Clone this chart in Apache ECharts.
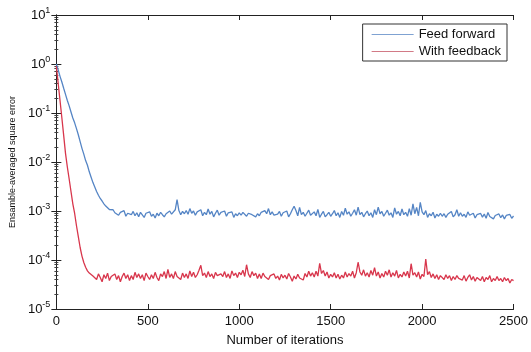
<!DOCTYPE html>
<html>
<head>
<meta charset="utf-8">
<script src="https://cdn.jsdelivr.net/npm/echarts@6/dist/echarts.min.js"></script>
<style>
  html, body { margin: 0; padding: 0; background: #fff; }
  #container { width: 531px; height: 352px; }
</style>
</head>
<body>
<div id="container"></div>
<script>
// one sample every 10 iterations, 0..2500
var iterStep = 10;
var seriesNames = ['Feed forward', 'With feedback'];

var feedForward = [
  1.0, 0.76, 0.56, 0.43, 0.32, 0.24, 0.18, 0.14, 0.105, 0.079,
  0.063, 0.048, 0.036, 0.026, 0.019, 0.0145, 0.0107, 0.0086, 0.0063, 0.0049,
  0.0038, 0.0031, 0.0025, 0.0021, 0.0018, 0.0016, 0.0014, 0.00126, 0.00118, 0.00107,
  0.00100,
  10.6e-4, 9.2e-4, 10.0e-4, 8.2e-4, 9.4e-4, 8.6e-4, 10.2e-4, 7.8e-4, 9.0e-4, 9.6e-4,
  8.4e-4, 9.8e-4, 8.0e-4, 9.2e-4, 7.6e-4, 9.4e-4, 8.8e-4, 7.4e-4, 9.0e-4, 8.2e-4,
  9.6e-4, 7.8e-4, 8.6e-4, 7.2e-4, 9.0e-4, 8.0e-4, 9.4e-4, 8.4e-4, 7.6e-4, 8.8e-4,
  8.2e-4, 10.0e-4, 8.6e-4, 9.4e-4, 10.6e-4, 17.0e-4, 10.2e-4, 8.4e-4, 9.8e-4, 8.8e-4,
  10.2e-4, 8.6e-4, 11.2e-4, 9.0e-4, 10.0e-4, 8.2e-4, 9.6e-4, 8.8e-4, 10.6e-4, 8.0e-4,
  9.4e-4, 8.4e-4, 11.0e-4, 8.6e-4, 9.8e-4, 7.6e-4, 9.0e-4, 10.4e-4, 8.2e-4, 9.4e-4,
  8.6e-4, 10.0e-4, 7.8e-4, 9.2e-4, 8.4e-4, 9.6e-4, 7.4e-4, 8.8e-4, 8.0e-4, 9.2e-4,
  8.2e-4, 9.4e-4, 8.6e-4, 7.8e-4, 9.0e-4, 9.8e-4, 8.4e-4, 9.2e-4, 7.6e-4, 8.8e-4,
  8.0e-4, 9.4e-4, 8.6e-4, 10.2e-4, 8.8e-4, 11.2e-4, 8.4e-4, 9.6e-4, 8.2e-4, 9.0e-4,
  8.6e-4, 9.8e-4, 7.8e-4, 9.2e-4, 8.4e-4, 10.0e-4, 7.6e-4, 8.8e-4, 10.6e-4, 12.5e-4,
  10.2e-4, 8.0e-4, 11.8e-4, 8.4e-4, 9.4e-4, 7.8e-4, 9.0e-4, 10.4e-4, 8.2e-4, 8.8e-4,
  9.6e-4, 8.0e-4, 10.8e-4, 7.4e-4, 8.6e-4, 9.8e-4, 7.6e-4, 8.4e-4, 9.4e-4, 7.8e-4,
  8.8e-4, 10.2e-4, 8.0e-4, 9.2e-4, 7.4e-4, 9.8e-4, 8.2e-4, 11.4e-4, 8.6e-4, 9.6e-4,
  7.8e-4, 9.0e-4, 10.6e-4, 8.2e-4, 12.0e-4, 8.4e-4, 9.4e-4, 7.6e-4, 8.8e-4, 10.0e-4,
  8.0e-4, 9.2e-4, 7.4e-4, 10.6e-4, 8.4e-4, 12.0e-4, 8.8e-4, 9.8e-4, 7.8e-4, 9.0e-4,
  10.4e-4, 8.2e-4, 9.2e-4, 7.4e-4, 11.6e-4, 8.6e-4, 9.8e-4, 8.0e-4, 11.0e-4, 8.4e-4,
  9.4e-4, 7.8e-4, 11.2e-4, 8.2e-4, 14.0e-4, 8.8e-4, 11.8e-4, 8.0e-4, 15.0e-4, 9.6e-4,
  8.4e-4, 10.2e-4, 7.4e-4, 8.8e-4, 8.0e-4, 9.4e-4, 7.2e-4, 8.6e-4, 7.8e-4, 9.0e-4,
  7.8e-4, 8.8e-4, 7.4e-4, 8.6e-4, 8.0e-4, 9.8e-4, 7.6e-4, 8.4e-4, 10.6e-4, 7.8e-4,
  9.2e-4, 7.8e-4, 8.6e-4, 7.4e-4, 9.6e-4, 8.2e-4, 7.6e-4, 9.0e-4, 7.2e-4, 8.4e-4,
  7.9e-4, 8.9e-4, 7.5e-4, 8.7e-4, 7.1e-4, 9.3e-4, 7.7e-4, 8.3e-4, 6.9e-4, 8.1e-4,
  7.7e-4, 8.7e-4, 7.3e-4, 8.3e-4, 6.9e-4, 8.1e-4, 7.5e-4, 8.5e-4, 7.1e-4, 7.9e-4
];

var withFeedback = [
  0.9, 0.4, 0.18, 0.08, 0.035, 0.015, 0.0079, 0.0045, 0.0025, 0.0014,
  8.9e-4, 5.0e-4, 3.0e-4, 1.8e-4, 1.2e-4, 8.9e-5, 7.1e-5, 6.0e-5, 5.4e-5, 5.0e-5,
  4.7e-5,
  4.8e-5, 4.0e-5, 5.2e-5, 4.4e-5, 3.6e-5, 5.0e-5, 4.2e-5, 5.4e-5, 3.8e-5, 4.6e-5,
  4.4e-5, 5.2e-5, 4.0e-5, 4.8e-5, 3.6e-5, 4.6e-5, 5.4e-5, 4.2e-5, 5.0e-5, 3.8e-5,
  4.8e-5, 4.0e-5, 5.6e-5, 4.4e-5, 5.2e-5, 4.2e-5, 5.0e-5, 3.8e-5, 5.4e-5, 4.6e-5,
  4.0e-5, 5.0e-5, 4.2e-5, 5.6e-5, 4.4e-5, 3.8e-5, 5.2e-5, 4.6e-5, 5.8e-5, 4.2e-5,
  6.4e-5, 4.4e-5, 5.2e-5, 4.2e-5, 5.8e-5, 4.6e-5, 5.0e-5, 4.0e-5, 5.4e-5, 4.4e-5,
  5.2e-5, 4.2e-5, 6.0e-5, 4.6e-5, 5.6e-5, 4.4e-5, 5.0e-5, 6.2e-5, 7.8e-5, 4.8e-5,
  5.4e-5, 4.4e-5, 5.8e-5, 4.6e-5, 5.2e-5, 4.2e-5, 5.6e-5, 4.8e-5, 4.4e-5, 5.2e-5,
  4.6e-5, 5.8e-5, 4.4e-5, 5.2e-5, 4.2e-5, 6.0e-5, 4.8e-5, 5.4e-5, 4.4e-5, 5.6e-5,
  5.0e-5, 6.2e-5, 4.6e-5, 8.0e-5, 5.2e-5, 4.4e-5, 5.8e-5, 4.8e-5, 5.4e-5, 4.2e-5,
  5.2e-5, 4.2e-5, 5.4e-5, 4.6e-5, 5.0e-5, 4.0e-5, 4.8e-5, 4.4e-5, 5.2e-5, 4.2e-5,
  4.7e-5, 3.9e-5, 5.1e-5, 4.3e-5, 4.9e-5, 4.1e-5, 5.3e-5, 4.5e-5, 3.7e-5, 4.7e-5,
  4.1e-5, 5.1e-5, 4.3e-5, 4.7e-5, 3.9e-5, 5.3e-5, 4.5e-5, 5.9e-5, 4.7e-5, 5.5e-5,
  4.5e-5, 5.9e-5, 4.7e-5, 8.5e-5, 5.3e-5, 6.1e-5, 4.7e-5, 5.7e-5, 4.3e-5, 5.1e-5,
  4.5e-5, 5.5e-5, 4.3e-5, 5.1e-5, 4.1e-5, 4.9e-5, 4.3e-5, 5.7e-5, 4.5e-5, 5.3e-5,
  4.7e-5, 5.9e-5, 4.3e-5, 5.5e-5, 9.0e-5, 5.7e-5, 4.9e-5, 6.3e-5, 4.7e-5, 5.5e-5,
  4.5e-5, 6.1e-5, 4.9e-5, 7.0e-5, 4.7e-5, 5.7e-5, 4.3e-5, 5.3e-5, 4.5e-5, 5.9e-5,
  4.9e-5, 6.3e-5, 4.5e-5, 5.5e-5, 4.7e-5, 6.1e-5, 4.3e-5, 5.1e-5, 4.5e-5, 5.7e-5,
  4.7e-5, 5.9e-5, 4.3e-5, 8.4e-5, 4.9e-5, 5.5e-5, 4.5e-5, 5.7e-5, 4.1e-5, 5.1e-5,
  4.6e-5, 10.5e-5, 5.0e-5, 5.8e-5, 4.4e-5, 5.2e-5, 4.2e-5, 5.0e-5, 4.0e-5, 4.8e-5,
  4.6e-5, 4.0e-5, 5.0e-5, 4.2e-5, 4.8e-5, 3.8e-5, 4.6e-5, 4.0e-5, 4.8e-5, 4.2e-5,
  4.6e-5, 3.9e-5, 4.8e-5, 3.7e-5, 4.4e-5, 5.0e-5, 3.9e-5, 4.6e-5, 3.7e-5, 4.4e-5,
  4.3e-5, 3.8e-5, 4.6e-5, 3.6e-5, 4.4e-5, 4.0e-5, 4.8e-5, 3.6e-5, 4.2e-5, 3.8e-5,
  4.6e-5, 3.8e-5, 4.2e-5, 3.6e-5, 4.4e-5, 3.8e-5, 4.2e-5, 3.4e-5, 4.0e-5, 3.8e-5
];

var xTicks = [0, 500, 1000, 1500, 2000, 2500];

window.onload = function () {
  drawChart();
};

// pair each sample with its iteration number
function toPairs(vals) {
  var out = [];
  for (var i = 0; i < vals.length; i++) {
    out.push([i * iterStep, vals[i]]);
  }
  return out;
}

function drawChart() {
  var myChart = echarts.init(document.getElementById('container'));
  var font = 'Liberation Sans, Arial, Helvetica, sans-serif';
  var tickStyle = { show: true, inside: true, length: 5, lineStyle: { color: '#222' } };
  var lineStyle = { show: true, lineStyle: { color: '#222', width: 1 } };

  myChart.setOption({
    animation: false,
    grid: { left: 53, right: 17, top: 15, bottom: 38, containLabel: false },
    legend: {
      data: seriesNames,
      orient: 'vertical',
      right: 24,
      top: 24,
      icon: 'rect',
      itemWidth: 42,
      itemHeight: 1,
      itemGap: 4,
      padding: [4, 6, 3, 9],
      borderColor: '#333',
      borderWidth: 1,
      backgroundColor: '#fff',
      textStyle: { fontFamily: font, fontSize: 13, color: '#111' }
    },
    xAxis: [{
      type: 'value',
      min: xTicks[0],
      max: xTicks[xTicks.length - 1],
      interval: 500,
      name: 'Number of iterations',
      nameLocation: 'middle',
      nameGap: 25,
      nameTextStyle: { fontFamily: font, fontSize: 13, color: '#111' },
      axisLine: lineStyle,
      axisTick: tickStyle,
      splitLine: { show: false },
      axisLabel: {
        fontFamily: font, fontSize: 13, color: '#111', margin: 6,
        formatter: function (v) { return String(v); }
      }
    }, {
      type: 'value',
      position: 'top',
      min: xTicks[0],
      max: xTicks[xTicks.length - 1],
      interval: 500,
      axisLine: lineStyle,
      axisTick: tickStyle,
      axisLabel: { show: false },
      splitLine: { show: false }
    }],
    yAxis: [{
      type: 'log',
      logBase: 10,
      min: 1e-5,
      max: 10,
      name: 'Ensamble-averaged square error',
      nameLocation: 'middle',
      nameGap: 39,
      nameTextStyle: { fontFamily: font, fontSize: 9, color: '#111' },
      axisLine: lineStyle,
      axisTick: tickStyle,
      minorTick: { show: true, splitNumber: 9, length: 2, lineStyle: { color: '#444' } },
      splitLine: { show: false },
      axisLabel: {
        margin: 6,
        formatter: function (v) {
          var e = Math.round(Math.log(v) / Math.LN10);
          return '{b|10}{s|' + e + '}';
        },
        rich: {
          b: { fontFamily: font, fontSize: 13, color: '#111' },
          s: { fontFamily: font, fontSize: 9, color: '#111', padding: [0, 0, 9, 0] }
        }
      }
    }, {
      type: 'log',
      logBase: 10,
      min: 1e-5,
      max: 10,
      position: 'right',
      axisLine: lineStyle,
      axisTick: tickStyle,
      minorTick: { show: true, splitNumber: 9, length: 2, lineStyle: { color: '#444' } },
      axisLabel: { show: false },
      splitLine: { show: false }
    }],
    series: [{
      name: seriesNames[0],
      type: 'line',
      data: toPairs(feedForward),
      symbol: 'none',
      lineStyle: { color: '#5585c5', width: 1.3 },
      itemStyle: { color: '#7fa2d2' }
    }, {
      name: seriesNames[1],
      type: 'line',
      data: toPairs(withFeedback),
      symbol: 'none',
      lineStyle: { color: '#d8364c', width: 1.3 },
      itemStyle: { color: '#d27a86' }
    }]
  });
}
</script>
</body>
</html>
